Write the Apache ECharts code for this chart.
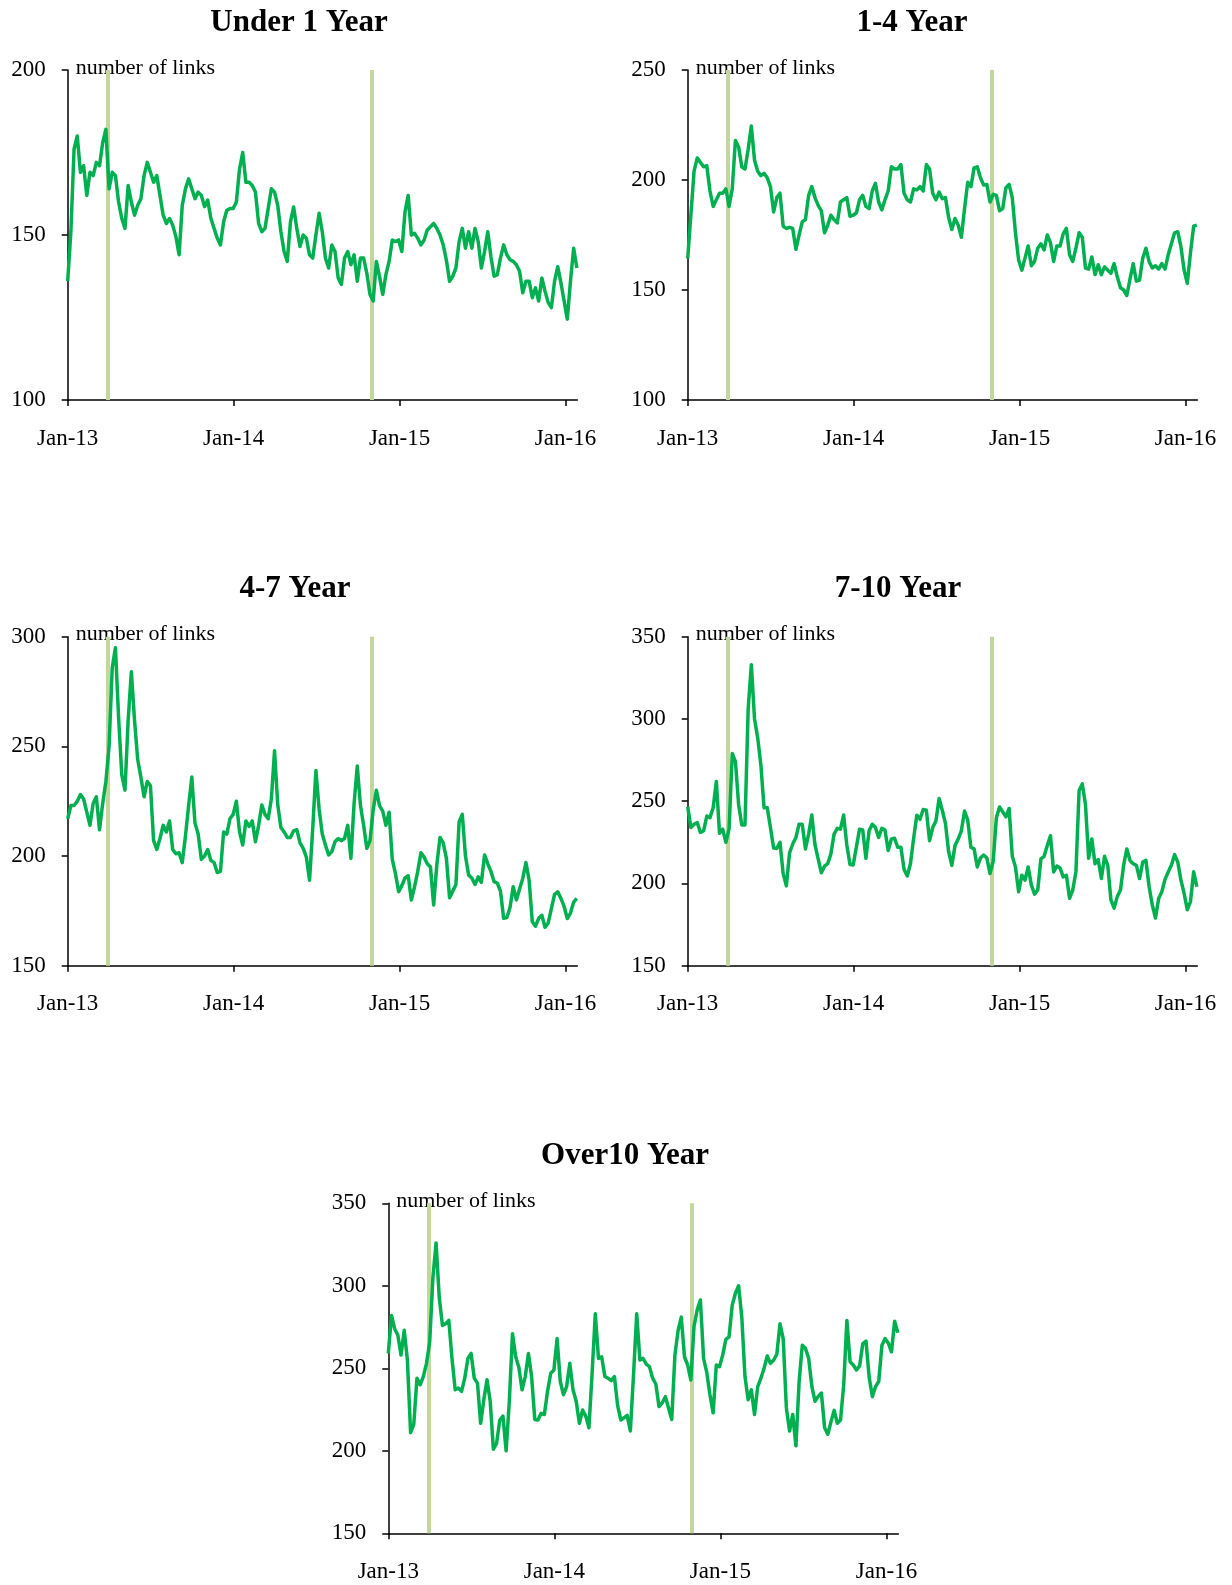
<!DOCTYPE html>
<html>
<head>
<meta charset="utf-8">
<title>number of links by maturity</title>
<script src="https://cdn.jsdelivr.net/npm/echarts@6/dist/echarts.min.js"></script>
<style>
  html, body { margin: 0; padding: 0; background: #fff; }
  #chart { width: 1232px; height: 1585px; }
</style>
</head>
<body>
<div id="chart"></div>
<script>
// weekly readings, first week starts 2013-01-01
const weekStart = '2013-01-01'
const yearTicks = ['2013-01-01', '2014-01-01', '2015-01-01', '2016-01-01']
const yearLabels = ['Jan-13', 'Jan-14', 'Jan-15', 'Jan-16']
// policy events shown as vertical bands
const eventDates = ['2013-03-30', '2014-10-31']

const titles = ['Under 1 Year', '1-4 Year', '4-7 Year', '7-10 Year', 'Over10 Year']
const yMin = [100, 100, 150, 150, 150]
const yMax = [200, 250, 300, 350, 350]

const under1 = [136,151,176,180,169,171,162,169,168,172,171,178,182,164,169,168,160,155,152,165,
  160,156,159,161,168,172,169,166,168,162,156,153.5,155,153,149.5,144,159,164,167,164,
  161,163,162,158.6,160.6,155,152,149,147,154,157.5,158,158,160,170,175,166,166,165,163,
  153.5,151,152,158,164,163,159,151,145,142,154,158.5,152,146.5,150,149,144,143,150,156.6,
  151,143,140,
  147,145,137,135,143,145,141,144,136,143,143,138.4,132,130,142,137.4,132,138,142,148.5,
  148,148.5,145,157,162,150,150.5,149,147,148.5,151.5,152.5,153.5,152,150,147,142.4,136,137.5,140,
  148,152,146,151,146,152,148,140,145,151,143.4,137.5,138,143,147,144,142.5,142,141,139,
  132.5,136,136,131,134,130,137,133,129.5,128,136,140.4,135.5,130,124.5,136,146,140]

const y1to4 = [164.4,184,204,210,208,206,206.5,195,188,191,194,194,196,188,196,218,215,206,205,214,
  224.5,209,204,202,203,201,197,185.5,192,194,179,178,178.5,178,168.5,175,181,182,193,197,
  192,188.5,186,176,179.5,184,182,180.5,190,191,192,183.5,184,185,191,193,188,187,195,198.5,
  190,186.4,191,195,206,205,205,207,194,191,190,196,195.5,197,195,207,205,194,191,194.5,
  191.5,192,183,
  177.5,182.5,179.5,174,187,199,197,205.5,206,201,197.7,198,190,193.5,193,186,187,196.5,198,192,
  176,163.6,159,164.5,170,161,163,169,171,168.2,175,171.5,163,170,170,175.5,178,166,163,169,
  176,174,160,159.5,165,157,161.5,157,160.5,159,157.6,162,156,151,150,147.5,155,162,154,154.5,
  164.5,169,163,160,161,159.5,162,159.5,166,171,176,176.5,169.7,159,153,167,179,179.5]

const y4to7 = [217,223,223,225,228,226,220,214,224,227,212,224,234,250,286,295,263,237,230,262,
  284,262,244,236,227,234,232,207,203,208,214,211,216,203,201,201.5,197,209,223,236,
  215,210,198.5,200,203,198,197,192.5,193,211,210,217,219,225,211,205,216,213.5,216,206.5,
  214,223.3,219,217,226,248,223.5,213,211,208.5,208.5,211.5,212,206,203.5,199.5,189,212.5,239,221.5,
  210,205,200.5,
  202,206.5,208,207,208,214,199,224,241,223,214,203.5,207,221,230,223,220.5,214,220,198.5,
  192,183.7,186.5,190,191,180,186,193,201.5,199.5,196.5,195,177.7,196,208.5,206,199,181,184,187,
  215.5,219,200,191.3,190,187,190.5,188,200.5,196.5,193,188.3,187.7,184,171.6,172,176.5,186,180,185,
  189.8,197,189,170,168,171.6,173,167.5,169.5,176,182.5,183.7,180.7,177,171.5,174,179,180.7]

const y7to10 = [246.7,234,236,237,231,232,241,240,246,262,230.5,233,225,233,279,274,248,235.5,235.5,306,
  333,300,288.5,272,246,246,234,221.5,221.3,225,206,198.5,218.5,224,228,236,236,221,230,241.6,
  223.4,215,206.5,210.5,212,218,230,233.5,233,241.6,223.4,211.5,211.2,222,233,232.5,215.3,232,236,234,
  228,233.5,232.5,220,227,227.5,222,222,208.5,204.5,212,227.4,241.5,239,245,244.5,226,234,238,251.7,
  244.5,236.5,219.3,
  211,223,227,232,244,238.5,222,221,210,215.5,217.3,215.5,206,213.5,240,246.5,243.5,240.5,245.6,216.5,
  210,195,205,202,210,199,193.5,196,215,216.5,223,229,207,210.5,209.5,204,205,191,196,207,
  256.5,260.5,248,215.3,227,212,214.5,203,216.5,211,190,185,192,196,211.2,221,214,212,211,203,
  213,214,198,187,179,190.9,195,202.5,207,211,217.5,213,202,194,184,189,207.1,198]

const over10 = [259,282,274,270,258,273,255,211,216,244,240,244.9,253,266,305,326,293,276,277,279,
  256,237,238,236,244,256,259,244,241,216.7,231,243,230,201,204.5,218.5,221,200,230,271,
  257,250.5,237,245,259,245,219,218.7,222.7,222,236,247,249,268,242,234,238.9,253,237,230,
  216.7,224.7,221,214,247,283,256,257,245,244,242.5,245,227.5,218.7,220,221.5,212,246,283,255,
  256,252.5,251,
  244,240.5,226.8,229,232.8,226,219,258,273,281,257,252,242.9,275.5,285.4,291.4,256,247.5,234,223,
  252,251,258,267.5,269,288.4,295.5,300,281,245,231,236.9,222,238.9,244,250,257.5,253,255,258.5,
  277,268,226,212,222,203,242,264,262,256,239,230,233,235,214,210,217.5,224.5,216.7,218.7,
  240,279,254,252,249,251.5,265,266.5,244.5,232.8,239,242,264,268,265.2,260,278.5,271.5]

const allSeries = [under1, y1to4, y4to7, y7to10, over10]

// layout of the five panels (px)
const panels = [
  { left: 67.7, top: 70, width: 509.6, height: 330, titleX: 299, titleY: 23 },
  { left: 687.7, top: 70, width: 509.6, height: 330, titleX: 912, titleY: 23 },
  { left: 67.7, top: 636.7, width: 509.6, height: 329, titleX: 295, titleY: 589 },
  { left: 687.7, top: 636.7, width: 509.6, height: 329, titleX: 898, titleY: 589 },
  { left: 388.3, top: 1203.3, width: 510, height: 330, titleX: 625, titleY: 1156 }
]

const FONT = '"Liberation Serif", "Times New Roman", serif'
const DAY = 24 * 3600 * 1000
const toDays = (s) => Math.round((Date.parse(s + 'T00:00:00Z') - Date.parse(weekStart + 'T00:00:00Z')) / DAY)
const tickDays = yearTicks.map(toDays)
const eventDays = eventDates.map(toDays)
const axisMax = 1121

const grid = []
const xAxis = []
const yAxis = []
const series = []
const graphic = []

panels.forEach((p, i) => {
  grid.push({ left: p.left, top: p.top, width: p.width, height: p.height, containLabel: false })
  xAxis.push({
    type: 'value',
    gridIndex: i,
    min: 0,
    max: axisMax,
    axisLine: { show: true, onZero: false, lineStyle: { color: '#000', width: 1.5 } },
    axisTick: { show: true, customValues: tickDays, length: 6, lineStyle: { color: '#000', width: 1.5 } },
    axisLabel: {
      customValues: tickDays,
      formatter: (v) => yearLabels[tickDays.indexOf(v)] || '',
      margin: 27,
      fontSize: 23,
      fontFamily: FONT,
      color: '#000'
    },
    splitLine: { show: false }
  })
  yAxis.push({
    type: 'value',
    gridIndex: i,
    min: yMin[i],
    max: yMax[i],
    interval: 50,
    axisLine: { show: true, onZero: false, lineStyle: { color: '#000', width: 1.5 } },
    axisTick: { show: true, length: 6, lineStyle: { color: '#000', width: 1.5 } },
    axisLabel: { margin: 22, fontSize: 23, fontFamily: FONT, color: '#000' },
    splitLine: { show: false }
  })
  // bands on an empty series, the data line goes on a higher layer
  series.push({
    type: 'line',
    xAxisIndex: i,
    yAxisIndex: i,
    data: [],
    silent: true,
    markLine: {
      silent: true,
      symbol: ['none', 'none'],
      label: { show: false },
      lineStyle: { color: '#c3d69b', width: 4, type: 'solid' },
      data: eventDays.map((d) => ({ xAxis: d }))
    }
  })
  series.push({
    type: 'line',
    xAxisIndex: i,
    yAxisIndex: i,
    zlevel: 1,
    data: allSeries[i].map((v, k) => [k * 7, v]),
    symbol: 'none',
    lineStyle: { color: '#00b050', width: 3.5, join: 'round' },
    itemStyle: { color: '#00b050' }
  })
  graphic.push({
    type: 'text',
    x: p.titleX,
    y: p.titleY,
    style: {
      text: titles[i],
      fontSize: 31,
      fontWeight: 'bold',
      fontFamily: FONT,
      fill: '#000',
      align: 'center',
      verticalAlign: 'middle'
    }
  })
  graphic.push({
    type: 'text',
    x: p.left + 8,
    y: p.top - 2,
    style: {
      text: 'number of links',
      fontSize: 22,
      fontFamily: FONT,
      fill: '#000',
      align: 'left',
      verticalAlign: 'middle'
    }
  })
})

const myChart = echarts.init(document.getElementById('chart'))
myChart.setOption({
  backgroundColor: '#fff',
  animation: false,
  grid,
  xAxis,
  yAxis,
  series,
  graphic
})
</script>
</body>
</html>
